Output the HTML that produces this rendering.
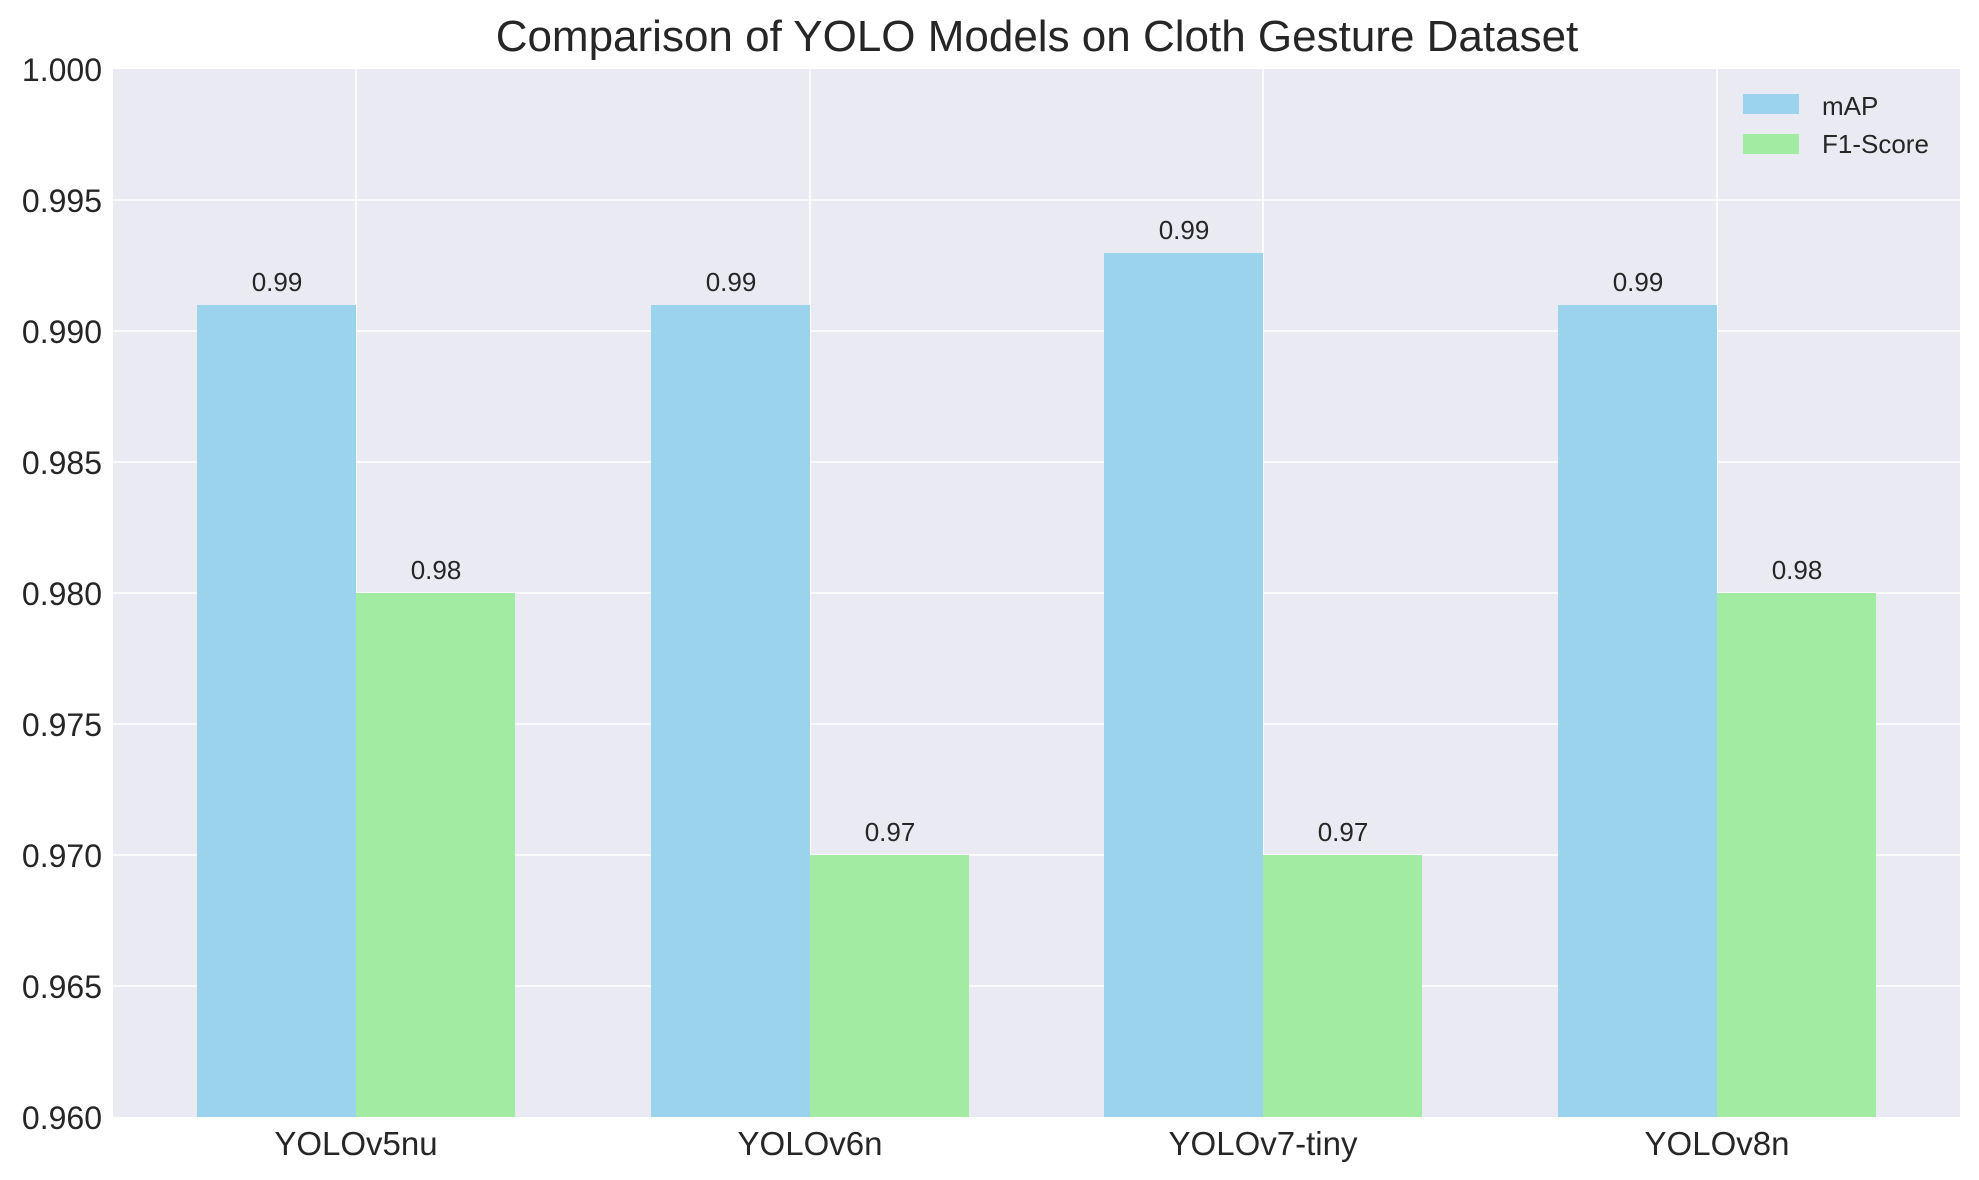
<!DOCTYPE html>
<html><head><meta charset="utf-8"><style>body{margin:0;background:#fff}svg{display:block}text{font-family:"Liberation Sans",sans-serif;fill:#262626}</style></head>
<body>
<svg width="1979" height="1180" xmlns="http://www.w3.org/2000/svg">
<rect x="113" y="69" width="1847" height="1048" fill="#eaeaf2"/>
<g stroke="#fff" stroke-width="1.6">
<line x1="113" x2="1960" y1="200" y2="200"/><line x1="113" x2="1960" y1="331" y2="331"/>
<line x1="113" x2="1960" y1="462" y2="462"/><line x1="113" x2="1960" y1="593" y2="593"/>
<line x1="113" x2="1960" y1="724" y2="724"/><line x1="113" x2="1960" y1="855" y2="855"/>
<line x1="113" x2="1960" y1="986" y2="986"/>
<line x1="356" x2="356" y1="69" y2="1117"/><line x1="810" x2="810" y1="69" y2="1117"/>
<line x1="1263" x2="1263" y1="69" y2="1117"/><line x1="1717" x2="1717" y1="69" y2="1117"/>
</g>
<g fill="#9bd3ec">
<rect x="197" y="305" width="159" height="812"/><rect x="651" y="305" width="159" height="812"/>
<rect x="1104" y="253" width="159" height="864"/><rect x="1558" y="305" width="159" height="812"/>
</g>
<g fill="#a2eba2">
<rect x="356" y="593" width="159" height="524"/><rect x="810" y="855" width="159" height="262"/>
<rect x="1263" y="855" width="159" height="262"/><rect x="1717" y="593" width="159" height="524"/>
</g>
<g font-size="26" text-anchor="middle">
<text x="277" y="291">0.99</text><text x="731" y="291">0.99</text><text x="1184" y="239">0.99</text><text x="1638" y="291">0.99</text>
<text x="436" y="579">0.98</text><text x="890" y="841">0.97</text><text x="1343" y="841">0.97</text><text x="1797" y="579">0.98</text>
</g>
<g font-size="32" text-anchor="end">
<text x="102" y="81">1.000</text><text x="102" y="212">0.995</text><text x="102" y="343">0.990</text>
<text x="102" y="474">0.985</text><text x="102" y="605">0.980</text><text x="102" y="736">0.975</text>
<text x="102" y="867">0.970</text><text x="102" y="998">0.965</text><text x="102" y="1129">0.960</text>
</g>
<g font-size="33" text-anchor="middle">
<text x="356" y="1155">YOLOv5nu</text><text x="810" y="1155">YOLOv6n</text>
<text x="1263" y="1155">YOLOv7-tiny</text><text x="1717" y="1155">YOLOv8n</text>
</g>
<text x="1037" y="51" font-size="44" text-anchor="middle">Comparison of YOLO Models on Cloth Gesture Dataset</text>
<rect x="1743" y="94" width="56" height="20" fill="#9bd3ec"/>
<rect x="1743" y="134" width="56" height="20" fill="#a2eba2"/>
<text x="1822" y="115" font-size="26">mAP</text>
<text x="1822" y="153" font-size="26">F1-Score</text>
</svg>
</body></html>
